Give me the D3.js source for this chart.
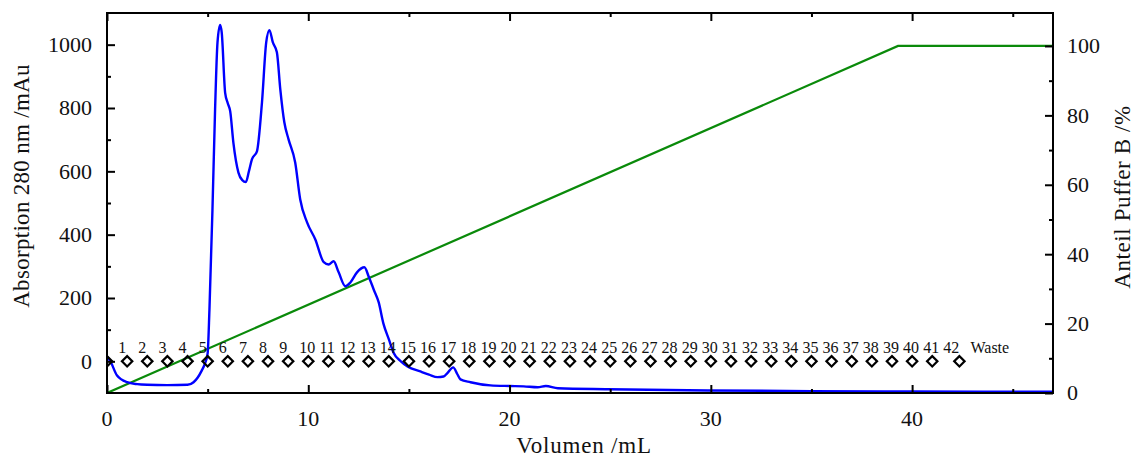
<!DOCTYPE html>
<html>
<head>
<meta charset="utf-8">
<script src="https://cdn.jsdelivr.net/npm/d3@7"></script>
<style>
  body { margin: 0; background: #fff; }
  text { font-family: "Liberation Serif", "Times New Roman", serif; fill: #111; }
</style>
</head>
<body>
<svg id="chart" width="1136" height="460"></svg>
<script>
// --- Data ---

// UV trace, 280 nm (mL, mAu)
const volume = [0, 0.15, 0.5, 1, 1.5, 2, 3, 4, 4.3, 4.5, 4.7, 4.85, 5.0, 5.09, 5.24, 5.37, 5.49, 5.62, 5.70,
  5.87, 6.0, 6.12, 6.28, 6.53, 6.72, 6.90, 7.05, 7.20, 7.45, 7.70, 7.91, 8.07, 8.24, 8.44, 8.61, 8.81,
  9.02, 9.35, 9.60, 9.94, 10.35, 10.77, 11.01, 11.26, 11.51, 11.84, 12.09, 12.42, 12.79, 13.00, 13.25,
  13.5, 13.73, 14.0, 14.23, 14.6, 14.93, 15.57, 16.0, 16.42, 16.72, 16.9, 17.2, 17.4, 17.56, 18.06,
  19.05, 20.0, 20.7, 21.4, 21.8, 22.4, 24.9, 29.85, 35, 40, 47];
const absorbance = [14, 2, -45, -66, -72, -74, -75, -74, -66, -52, -30, -10, 25, 164, 480, 796, 1007, 1062, 1038,
  848, 815, 790, 690, 596, 572, 566, 600, 638, 663, 818, 1007, 1046, 1007, 976, 859, 755,
  701, 628, 511, 439, 385, 313, 306, 316, 281, 237, 249, 281, 297, 268, 227,
  186, 120, 70, 28, 0, -16, -32, -42, -50, -48, -38, -19, -40, -57, -66,
  -76, -78, -79, -82, -78, -85, -88, -92, -94, -95, -96];

// Gradient, buffer B (mL, %)
const gradientVolume = [0, 39.3, 47];
const gradientB = [0, 100, 100];

// Fraction collector marks
const fractionVolume = [0, 1, 2, 3, 4, 5, 6, 7, 8, 9, 10, 11, 12, 13, 14, 15, 16, 17, 18, 19, 20,
  21, 22, 23, 24, 25, 26, 27, 28, 29, 30, 31, 32, 33, 34, 35, 36, 37, 38, 39, 40, 41, 42.35];
const labelVolume = [1, 2, 3, 4, 5, 6, 7, 8, 9, 10, 11, 12, 13, 14, 15, 16, 17, 18, 19, 20,
  21, 22, 23, 24, 25, 26, 27, 28, 29, 30, 31, 32, 33, 34, 35, 36, 37, 38, 39, 40, 41, 42];
const fractionLabels = ['1', '2', '3', '4', '5', '6', '7', '8', '9', '10', '11', '12', '13', '14', '15',
  '16', '17', '18', '19', '20', '21', '22', '23', '24', '25', '26', '27', '28', '29', '30', '31', '32',
  '33', '34', '35', '36', '37', '38', '39', '40', '41', '42'];
const wasteVolume = 42.9;
const wasteLabel = 'Waste';

// Ticks
const xTicks = [0, 10, 20, 30, 40];
const xMinorTicks = [5, 15, 25, 35, 45];
const yTicks = [0, 200, 400, 600, 800, 1000];
const yMinorTicks = [100, 300, 500, 700, 900];
const y2Ticks = [0, 20, 40, 60, 80, 100];
const y2MinorTicks = [10, 30, 50, 70, 90];

// --- Layout ---

const svg = d3.select('#chart');
const margin = { top: 13, right: 83, bottom: 67, left: 107 };
const width = 1136 - margin.left - margin.right;
const height = 460 - margin.top - margin.bottom;

const x = d3.scaleLinear().domain([0, 47]).range([0, width]);
const y = d3.scaleLinear().domain([-100, 1100]).range([height, 0]);
const y2 = d3.scaleLinear().domain([0, 109.5]).range([height, 0]);

const g = svg.append('g').attr('transform', `translate(${margin.left},${margin.top})`);

g.append('clipPath').attr('id', 'plot-clip')
  .append('rect').attr('width', width).attr('height', height);

const plot = g.append('g').attr('clip-path', 'url(#plot-clip)');

// Gradient line
plot.append('path')
  .datum(gradientVolume.map((v, i) => [v, gradientB[i]]))
  .attr('fill', 'none')
  .attr('stroke', '#0a8a0a')
  .attr('stroke-width', 2.2)
  .attr('d', d3.line().x(d => x(d[0])).y(d => y2(d[1])));

// UV trace
plot.append('path')
  .datum(volume.map((v, i) => [v, absorbance[i]]))
  .attr('fill', 'none')
  .attr('stroke', '#0000ff')
  .attr('stroke-width', 2.4)
  .attr('stroke-linejoin', 'round')
  .attr('d', d3.line().curve(d3.curveMonotoneX).x(d => x(d[0])).y(d => y(d[1])));

// Fraction diamonds
const diamond = d3.symbol().type(d3.symbolSquare).size(54);
plot.selectAll('.frac')
  .data(fractionVolume)
  .join('path')
  .attr('class', 'frac')
  .attr('d', diamond)
  .attr('transform', d => `translate(${x(d)},${y(0)}) rotate(45)`)
  .attr('fill', 'none')
  .attr('stroke', '#000')
  .attr('stroke-width', 2.2);

g.selectAll('.frac-label')
  .data(fractionLabels)
  .join('text')
  .attr('class', 'frac-label')
  .attr('x', (d, i) => x(labelVolume[i]) - 9)
  .attr('y', y(0) - 8)
  .style('font-size', '16px')
  .text(d => d);

g.append('text')
  .attr('x', x(wasteVolume))
  .attr('y', y(0) - 8)
  .style('font-size', '16px')
  .text(wasteLabel);

// --- Axes ---

function tickAxis(axis, scale, ticks, len) {
  return axis(scale).tickValues(ticks).tickSizeInner(-len).tickSizeOuter(0).tickFormat('');
}

const bottomAxis = g.append('g').attr('transform', `translate(0,${height})`);
bottomAxis.call(tickAxis(d3.axisBottom, x, xTicks, 8));
bottomAxis.append('g').call(tickAxis(d3.axisBottom, x, xMinorTicks, 4));

const topAxis = g.append('g');
topAxis.call(tickAxis(d3.axisTop, x, xTicks, 8));
topAxis.append('g').call(tickAxis(d3.axisTop, x, xMinorTicks, 4));

const leftAxis = g.append('g');
leftAxis.call(tickAxis(d3.axisLeft, y, yTicks, 8));
leftAxis.append('g').call(tickAxis(d3.axisLeft, y, yMinorTicks, 4));

const rightAxis = g.append('g').attr('transform', `translate(${width},0)`);
rightAxis.call(tickAxis(d3.axisRight, y2, y2Ticks, 8));
rightAxis.append('g').call(tickAxis(d3.axisRight, y2, y2MinorTicks, 4));

g.selectAll('.domain').remove();
g.selectAll('.tick line').attr('stroke', '#000').attr('stroke-width', 2);

// Frame
g.append('rect')
  .attr('width', width).attr('height', height)
  .attr('fill', 'none').attr('stroke', '#000').attr('stroke-width', 2);

// Tick labels
g.selectAll('.xl').data(xTicks).join('text')
  .attr('class', 'xl')
  .attr('x', d => x(d)).attr('y', height + 33)
  .attr('text-anchor', 'middle')
  .style('font-size', '22px')
  .text(d => d);

g.selectAll('.yl').data(yTicks).join('text')
  .attr('class', 'yl')
  .attr('x', -15).attr('y', d => y(d)).attr('dy', '0.34em')
  .attr('text-anchor', 'end')
  .style('font-size', '22px')
  .text(d => d);

g.selectAll('.y2l').data(y2Ticks).join('text')
  .attr('class', 'y2l')
  .attr('x', width + 14).attr('y', d => y2(d)).attr('dy', '0.34em')
  .style('font-size', '22px')
  .text(d => d);

// Axis titles
g.append('text')
  .attr('x', width / 2 + 4).attr('y', height + 60)
  .attr('text-anchor', 'middle')
  .style('font-size', '23px')
  .style('letter-spacing', '0.8px')
  .text('Volumen /mL');

g.append('text')
  .attr('transform', `translate(${29 - margin.left},${186 - margin.top}) rotate(-90)`)
  .attr('text-anchor', 'middle')
  .style('font-size', '23px')
  .style('letter-spacing', '0.3px')
  .text('Absorption 280 nm /mAu');

g.append('text')
  .attr('transform', `translate(${1130 - margin.left},${197 - margin.top}) rotate(-90)`)
  .attr('text-anchor', 'middle')
  .style('font-size', '23px')
  .style('letter-spacing', '0.6px')
  .text('Anteil Puffer B /%');
</script>
</body>
</html>
